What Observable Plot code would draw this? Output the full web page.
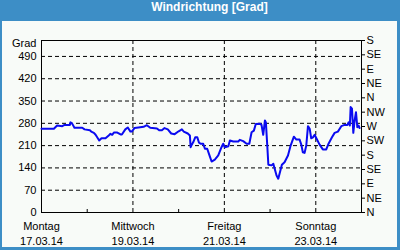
<!DOCTYPE html>
<html>
<head>
<meta charset="utf-8">
<script src="https://cdn.jsdelivr.net/npm/d3@7"></script>
<script src="https://cdn.jsdelivr.net/npm/@observablehq/plot@0.6"></script>
<style>
  html, body { margin: 0; padding: 0; background: #fff; }
  #wrap { width: 400px; height: 250px; background: #3d8ec6; position: relative; overflow: hidden; }
  #title { height: 21px; line-height: 21px; text-align: center; color: #fff;
           font: bold 12px "Liberation Sans", Arial, sans-serif; padding-left: 19px; box-sizing: border-box; }
  #panel { position: absolute; left: 2px; top: 21px; width: 395px; height: 226px; background: #f8fbf8; }
  #panel svg { display: block; }
</style>
</head>
<body>
<div id="wrap">
  <div id="title">Windrichtung [Grad]</div>
  <div id="panel"></div>
</div>
<script>
// Hours since 17.03.14 00:00 and wind direction in degrees
const hours = [0, 6.5, 8.2, 10.9, 12.1, 14.9, 15.2, 16.1, 17.3, 21.4, 22.6, 25.4, 26.1, 27.5, 28.4, 30.3, 31.5, 33.6, 35.3, 36.2, 37.1, 38.0, 39.8, 41.5, 42.2, 44.0, 45.3, 46.7, 47.4, 48.8, 50.9, 53.6, 55.3, 57.1, 60.6, 61.8, 63.2, 64.6, 66.3, 68.1, 69.9, 72.0, 73.7, 74.7, 76.8, 77.9, 78.3, 78.9, 79.7, 80.7, 81.8, 82.7, 83.5, 84.9, 85.8, 87.0, 88.1, 89.3, 91.0, 92.8, 94.5, 95.4, 96.3, 98.1, 98.9, 100.7, 103.3, 104.1, 105.9, 107.7, 109.1, 110.3, 111.5, 112.5, 114.6, 115.5, 116.4, 117.3, 117.8, 118.5, 119.1, 120.8, 121.7, 123.4, 124.3, 126.2, 127.6, 129.4, 130.8, 132.5, 133.8, 135.5, 136.4, 137.2, 138.1, 139.0, 139.9, 140.8, 141.6, 142.5, 143.4, 144.3, 146.0, 147.7, 149.5, 150.7, 152.5, 153.9, 155.6, 157.4, 159.1, 160.6, 161.2, 161.9, 162.3, 163.0, 163.7, 164.4, 165.1, 165.8, 166.5, 167.0];
const degrees = [263, 263, 273, 271, 275, 275, 283, 279, 266, 266, 261, 258, 254, 250, 244, 226, 233, 233, 242, 247, 244, 251, 251, 245, 245, 261, 267, 254, 254, 265, 267, 269, 274, 266, 264, 258, 258, 265, 261, 248, 246, 255, 261, 254, 248, 242, 205, 213, 221, 236, 236, 219, 216, 216, 200, 200, 181, 160, 166, 179, 205, 216, 205, 208, 226, 223, 223, 228, 224, 216, 216, 252, 257, 278, 279, 275, 244, 289, 283, 213, 150, 148, 153, 116, 106, 150, 158, 179, 210, 238, 229, 229, 213, 189, 187, 210, 271, 263, 233, 236, 244, 233, 213, 198, 198, 216, 236, 250, 254, 271, 275, 275, 283, 273, 331, 326, 250, 289, 315, 268, 273, 265];

const leftTicks = [0, 70, 140, 210, 280, 350, 420, 490];
const gridValues = [70, 140, 210, 280, 350, 420, 490];
const rightTicks = [0, 45, 90, 135, 180, 225, 270, 315, 360, 405, 450, 495, 540];
const rightLabels = ["N", "NE", "E", "SE", "S", "SW", "W", "NW", "N", "NE", "E", "SE", "S"];
const majorDays = ["2014-03-17", "2014-03-19", "2014-03-21", "2014-03-23"];
const majorNames = ["Montag", "Mittwoch", "Freitag", "Sonntag"];
const majorLabels = ["17.03.14", "19.03.14", "21.03.14", "23.03.14"];
const minorDays = ["2014-03-18", "2014-03-20", "2014-03-22"];
const xStart = "2014-03-17";
const xEnd = "2014-03-24";

const t0 = new Date(xStart + "T00:00Z").getTime();
const data = hours.map((h, i) => ({date: new Date(t0 + h * 3600e3), value: degrees[i]}));
const majorDates = majorDays.map(d => new Date(d + "T00:00Z"));
const minorDates = minorDays.map(d => new Date(d + "T00:00Z"));
const gridDates = majorDates.slice(1);

const chart = Plot.plot({
  width: 395,
  height: 226,
  marginLeft: 39,
  marginRight: 36,
  marginTop: 19,
  marginBottom: 35,
  style: {fontFamily: "Liberation Sans, Arial, sans-serif", fontSize: "11px", background: "transparent", color: "#000", overflow: "visible"},
  x: {type: "utc", domain: [new Date(xStart + "T00:00Z"), new Date(xEnd + "T00:00Z")]},
  y: {domain: [0, 540]},
  marks: [
    Plot.ruleY(gridValues, {stroke: "#000", strokeDasharray: "4,3"}),
    Plot.ruleX(gridDates, {stroke: "#000", strokeDasharray: "4,3"}),
    Plot.frame({stroke: "#000"}),
    Plot.axisY({anchor: "left", ticks: leftTicks, tickSize: 0, tickPadding: 5, label: null, tickFormat: d => String(d)}),
    Plot.axisY({anchor: "right", ticks: rightTicks, tickSize: 3, tickPadding: 2, label: null,
                tickFormat: d => rightLabels[rightTicks.indexOf(d)]}),
    Plot.axisX({ticks: majorDates, tickSize: 0, tickPadding: 7, label: null, lineHeight: 1.36,
                tickFormat: d => { const i = majorDates.findIndex(m => +m === +d); return majorNames[i] + "\n" + majorLabels[i]; }}),
    Plot.axisX({ticks: minorDates, tickSize: 3, dy: -3, label: null, tickFormat: () => ""}),
    Plot.text(["Grad"], {frameAnchor: "top-left", dx: -5, dy: -1, textAnchor: "end", text: d => d}),
    Plot.line(data, {x: "date", y: "value", stroke: "#0a0af0", strokeWidth: 2, curve: "linear"})
  ]
});
document.getElementById("panel").appendChild(chart);
</script>
</body>
</html>
